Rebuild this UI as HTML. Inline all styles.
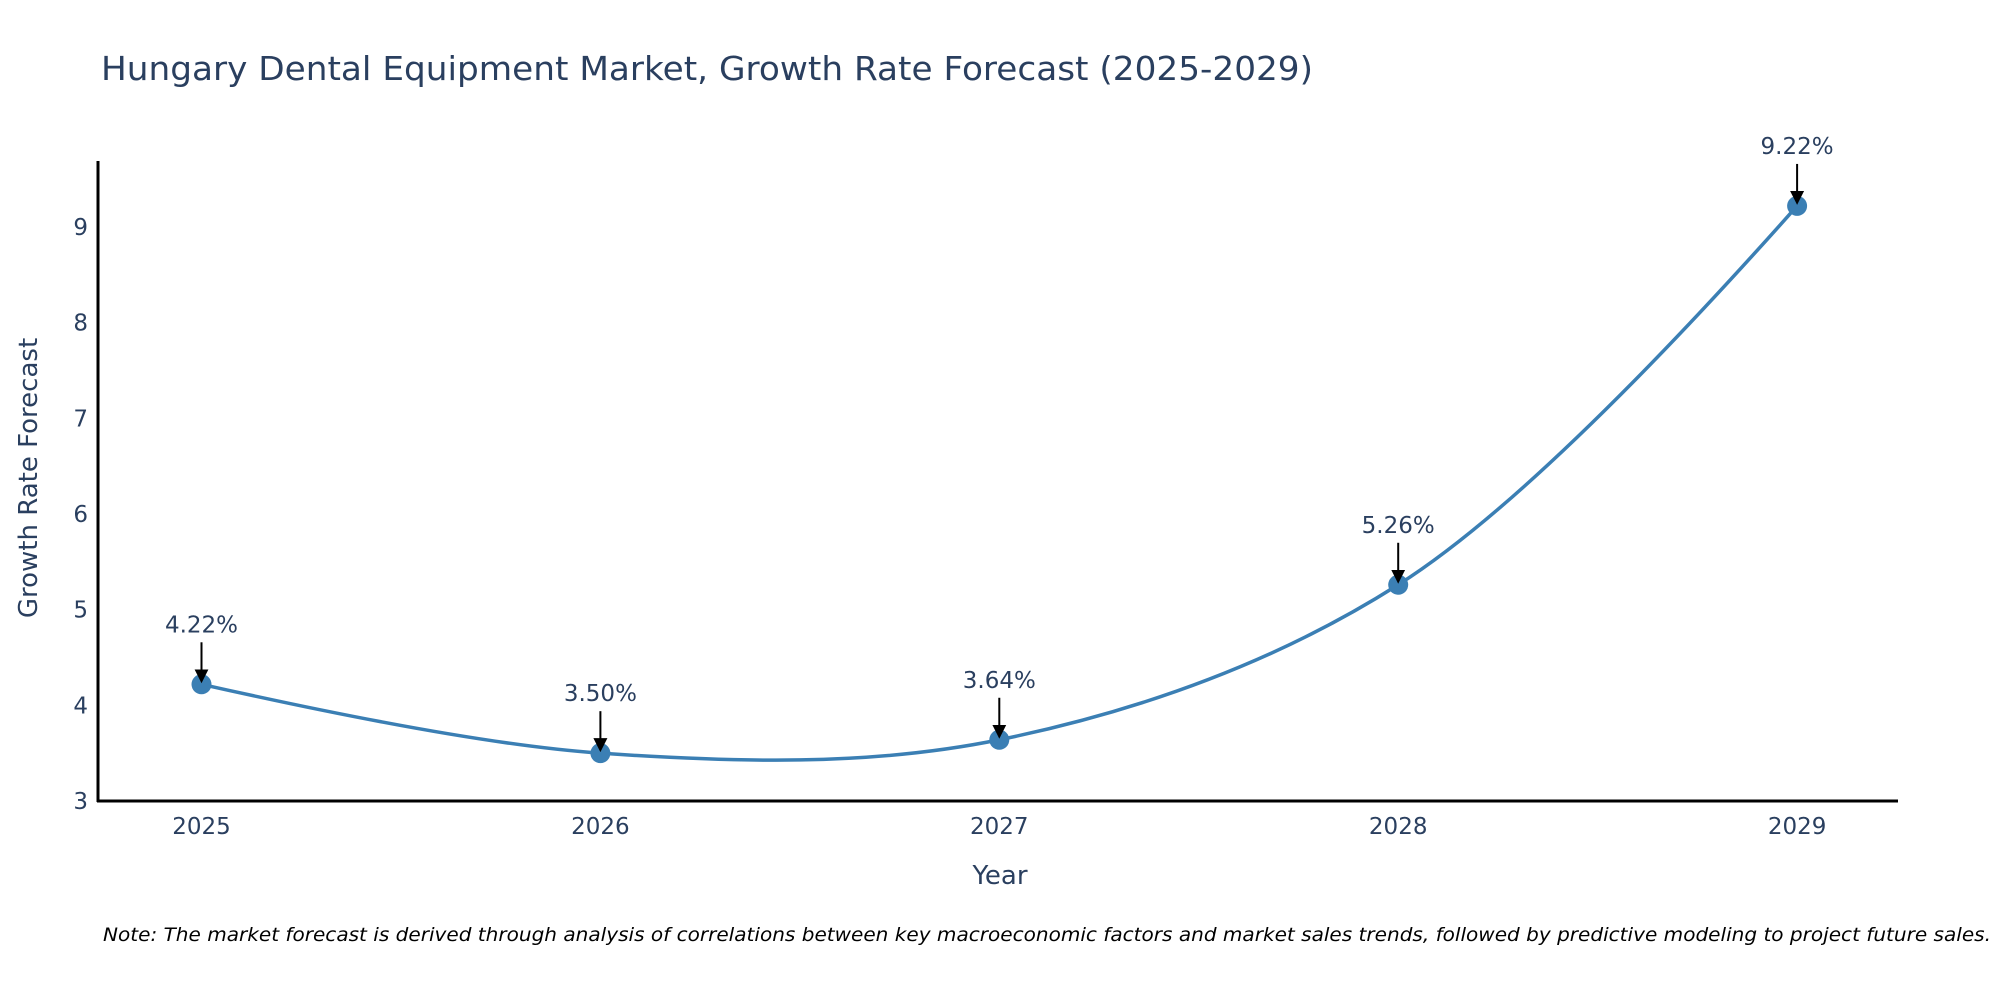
<!DOCTYPE html>
<html><head><meta charset="utf-8"><style>
html,body{margin:0;padding:0;background:#fff;}
svg{display:block;font-family:"DejaVu Sans","Liberation Sans",sans-serif;}
</style></head><body>
<svg id="chart" width="2000" height="1000" viewBox="0 0 2000 1000">
<defs><marker id="arr" markerWidth="14" markerHeight="14" refX="7" refY="7" orient="auto" markerUnits="userSpaceOnUse"><path d="M0,0 L14,7 L0,14 z" fill="#000"/></marker></defs>
<text x="101" y="80" font-size="33" fill="#2a3f5f" textLength="1212" lengthAdjust="spacingAndGlyphs">Hungary Dental Equipment Market, Growth Rate Forecast (2025-2029)</text>
<line x1="98" y1="161" x2="98" y2="802" stroke="#000" stroke-width="3"/>
<line x1="97" y1="801" x2="1898" y2="801" stroke="#000" stroke-width="3"/>
<g id="yticks"></g><g id="xticks"></g>
<path id="line" fill="none" stroke="#3b7fb4" stroke-width="3.5"/>
<g id="marks"></g>
<text x="1000" y="884" font-size="26" fill="#2a3f5f" text-anchor="middle">Year</text>
<text transform="translate(37,478) rotate(-90)" font-size="26" fill="#2a3f5f" text-anchor="middle">Growth Rate Forecast</text>
<text x="103" y="941" font-size="19" font-style="italic" fill="#000" textLength="1888" lengthAdjust="spacingAndGlyphs">Note: The market forecast is derived through analysis of correlations between key macroeconomic factors and market sales trends, followed by predictive modeling to project future sales.</text>
</svg>
<script>
const years = ["2025","2026","2027","2028","2029"];
const values = [4.22, 3.50, 3.64, 5.26, 9.22];
const yTicks = [3,4,5,6,7,8,9];
const NS="http://www.w3.org/2000/svg";
function xs(i){return 201.5 + i*398.9;}
function ys(v){return 801 - (v-3)*95.67;}
function mk(tag,attrs,parent){const e=document.createElementNS(NS,tag);for(const k in attrs)e.setAttribute(k,attrs[k]);parent.appendChild(e);return e;}
const yt=document.getElementById('yticks');
yTicks.forEach(t=>{
 const e=mk('text',{x:88,y:ys(t)+8,'font-size':23,fill:'#2a3f5f','text-anchor':'end'},yt);
 
 
 e.textContent=t;
});
const xt=document.getElementById('xticks');
years.forEach((y,i)=>{
 const e=mk('text',{x:xs(i),y:834,'font-size':23,fill:'#2a3f5f','text-anchor':'middle'},xt);
 
 
 e.textContent=y;
});
const pts=values.map((v,i)=>[xs(i),ys(v)]);
function tangent(p,t,n,s){
 const d1x=p[0]-t[0],d1y=p[1]-t[1],d2x=n[0]-t[0],d2y=n[1]-t[1];
 const d1a=Math.pow(d1x*d1x+d1y*d1y,0.25),d2a=Math.pow(d2x*d2x+d2y*d2y,0.25);
 const nx=(d2a*d2a*d1x-d1a*d1a*d2x)*s,ny=(d2a*d2a*d1y-d1a*d1a*d2y)*s;
 const den1=3*d2a*(d1a+d2a),den2=3*d1a*(d1a+d2a);
 return [[t[0]+nx/den1,t[1]+ny/den1],[t[0]-nx/den2,t[1]-ny/den2]];
}
const tg=[];
for(let i=1;i<pts.length-1;i++)tg.push(tangent(pts[i-1],pts[i],pts[i+1],1));
let d='M'+pts[0]+' Q'+tg[0][0]+' '+pts[1];
for(let i=2;i<pts.length-1;i++)d+=' C'+tg[i-2][1]+' '+tg[i-1][0]+' '+pts[i];
d+=' Q'+tg[tg.length-1][1]+' '+pts[pts.length-1];
document.getElementById('line').setAttribute('d',d);
const mg=document.getElementById('marks');
values.forEach((v,i)=>{
 const x=xs(i),y=ys(v);
 const c=mk('circle',{cx:x,cy:y,r:10,fill:'#3b7fb4'},mg);
 
 
 const a=mk('line',{x1:x,y1:y-42,x2:x,y2:y-8,stroke:'#000','stroke-width':2,'marker-end':'url(#arr)'},mg);
 
 
 const t=mk('text',{x:x,y:y-52,'font-size':23,fill:'#2a3f5f','text-anchor':'middle'},mg);
 
 
 t.textContent=v.toFixed(2)+'%';
});
</script>
</body></html>
